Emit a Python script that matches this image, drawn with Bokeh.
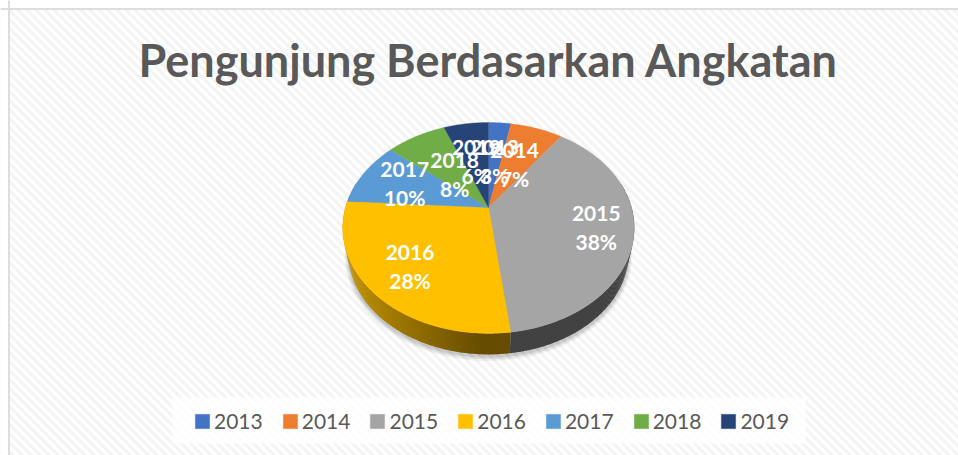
import numpy as np
from bokeh.plotting import figure
from bokeh.models import Range1d, Legend, LegendItem, ColumnDataSource, Span
from bokeh.core.properties import value
from bokeh.embed import file_html
from bokeh.resources import INLINE

# ---- data ----
title_text = "Pengunjung Berdasarkan Angkatan"
years = ["2013", "2014", "2015", "2016", "2017", "2018", "2019"]
shares = [3, 7, 38, 28, 10, 8, 6]
colors = ["#4472C4", "#ED7D31", "#A5A5A5", "#FFC000", "#5B9BD5", "#70AD47", "#264478"]
label_radius = [0.5, 0.5, 0.75, 0.72, 0.66, 0.43, 0.5]

# ---- projection of the tilted disc (page pixels) ----
CX, CY, A, B, K = 488.0, 207.0, 143.0, 101.5, 0.194
SCALE, DROP = 0.96, 26.0


def project(theta, r=1.0):
    u, v = r * np.sin(theta), r * np.cos(theta)
    d = 1 + K * v
    return CX + A * u / d, CY - B * v / d


def lower(x, y):
    return CX + (x - CX) * SCALE, CY + DROP + (y - CY) * SCALE


def side_colour(hex_colour, x):
    t = np.clip((480 - x) / 130, 0, 1)
    f = 0.40 + 0.34 * t
    rgb = [int(hex_colour[i:i + 2], 16) for i in (1, 3, 5)]
    return "#%02x%02x%02x" % tuple(int(c * f) for c in rgb)


p = figure(width=958, height=455, x_range=Range1d(0, 958), y_range=Range1d(455, 0),
           output_backend="svg", toolbar_location=None, min_border=0,
           outline_line_color=None, background_fill_color="#ffffff",
           border_fill_color="#ffffff")
p.axis.visible = False
p.grid.visible = False

# background weave
starts = np.arange(-460, 960, 9.0)
p.multi_line([[s, s + 460] for s in starts], [[0, 460] for _ in starts],
             line_color="#f4f4f4", line_width=3.2)
p.add_layout(Span(location=8.5, dimension="height", line_color="#dddddd", line_width=2))
p.add_layout(Span(location=8.5, dimension="width", line_color="#dddddd", line_width=2))
# cover the margin outside the chart area
p.quad(left=[0], right=[7.5], top=[0], bottom=[455], fill_color="#ffffff", line_color=None)
p.quad(left=[0], right=[958], top=[0], bottom=[7.5], fill_color="#ffffff", line_color=None)

# soft shadow beneath the pie
ring = np.linspace(0, 2 * np.pi, 240)
rx, ry = lower(*project(ring))
for grow, alpha in [(4.0, 0.05), (2.5, 0.07), (1.0, 0.09)]:
    p.patch(CX + (rx - CX) * (1 + grow / 146), CY + DROP + 2 + (ry - CY - DROP) * (1 + grow / 105),
            fill_color="#000000", fill_alpha=alpha, line_color=None)

edges = np.cumsum([0] + shares) / sum(shares) * 2 * np.pi

# side wall
sx, sy, sc = [], [], []
for i, col in enumerate(colors):
    t = np.arange(edges[i], edges[i + 1], np.radians(1.0))
    t = np.append(t, edges[i + 1])
    for a, b in zip(t[:-1], t[1:]):
        if np.cos(a) > 0.25:
            continue
        b2 = min(b + np.radians(0.4), edges[i + 1])
        x1, y1 = project(a)
        x2, y2 = project(b2)
        x3, y3 = lower(x2, y2)
        x4, y4 = lower(x1, y1)
        sx.append([x1, x2, x3, x4])
        sy.append([y1, y2, y3, y4])
        sc.append(side_colour(col, (x1 + x2) / 2))
p.patches(sx, sy, fill_color=sc, line_color=None)

# top of the pie
items = []
for i, col in enumerate(colors):
    t = np.linspace(edges[i], edges[i + 1], max(3, int(shares[i] * 6)))
    x, y = project(t)
    r = p.patch(np.r_[CX, x], np.r_[CY, y], fill_color=col, line_color=col, line_width=0.3)
    items.append(LegendItem(label=years[i], renderers=[r]))

# data labels
mids = (edges[:-1] + edges[1:]) / 2
lx, ly = project(mids, np.array(label_radius))
src = ColumnDataSource(dict(x=lx, y=ly, year=years, pct=[f"{s}%" for s in shares]))
common = dict(x="x", y="y", source=src, text_color="#ffffff", text_font=value("Lato"),
              text_font_style="bold", text_font_size="21px", text_align="center",
              text_baseline="middle")
p.text(text="year", y_offset=-14, **common)
p.text(text="pct", y_offset=14, **common)

# title
p.text(x=[488], y=[59], text=[title_text], text_color="#595959", text_font=value("Lato"),
       text_font_style="bold", text_font_size="45px", text_align="center",
       text_baseline="middle")

# legend plate and legend
p.quad(left=[172], right=[805], top=[397], bottom=[443], fill_color="#ffffff",
       fill_alpha=0.8, line_color=None)
legend = Legend(items=items, orientation="horizontal", location=(193, 22),
                background_fill_alpha=0, border_line_color=None,
                label_text_color="#595959", label_text_font="Lato",
                label_text_font_size="21px", glyph_width=18, glyph_height=18,
                label_standoff=3, spacing=18, padding=0, margin=0)
p.add_layout(legend, "center")

open("out.html", "w").write(file_html(p, INLINE))
